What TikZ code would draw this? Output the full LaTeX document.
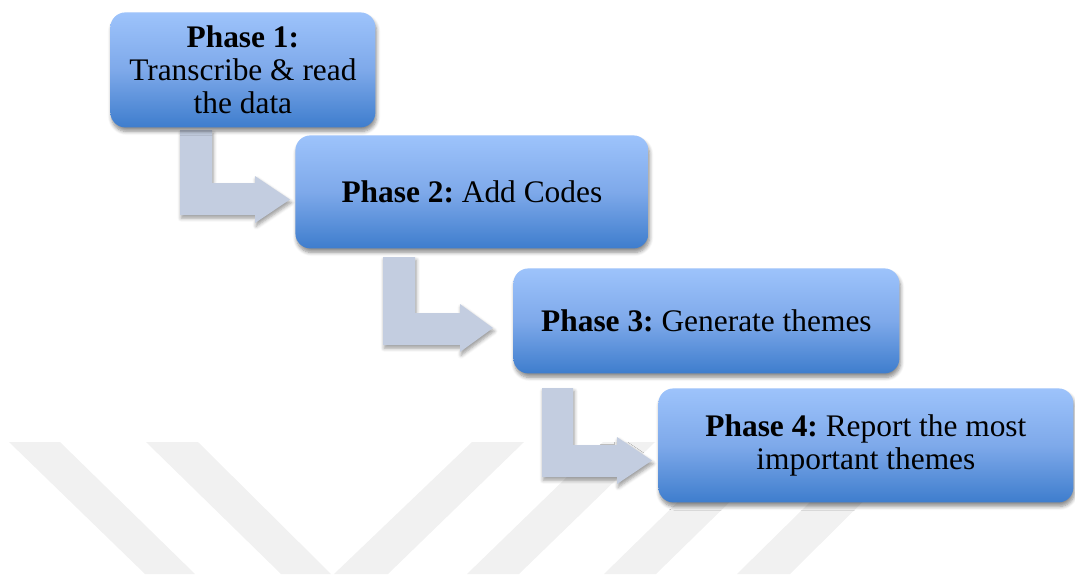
\documentclass[tikz,border=0pt]{standalone}
\usepackage{fontspec}
\setmainfont{Liberation Serif}
\usetikzlibrary{shadows.blur,calc}
\definecolor{boxtop}{HTML}{9DC3FB}
\definecolor{boxmid}{HTML}{7EA9EA}
\definecolor{boxbot}{HTML}{3E7DCD}
\definecolor{arrowfill}{HTML}{C3CDE0}
\definecolor{wmark}{HTML}{F1F1F1}
\tikzset{
  phasebox/.style={draw=none, rounded corners=7.5pt, inner sep=0pt,
    anchor=north west, align=center, text=black,
    font=\fontsize{15.7}{16.5}\selectfont\frenchspacing,
    top color=boxtop, bottom color=boxbot, middle color=boxmid,
    blur shadow={shadow xshift=0.6pt, shadow yshift=-2pt, shadow blur steps=6, shadow opacity=45}},
  bentarrow/.style={fill=arrowfill, draw=none,
    blur shadow={shadow xshift=0.6pt, shadow yshift=-1.6pt, shadow blur steps=5, shadow opacity=40}},
  band/.style={fill=wmark, draw=none}
}
\begin{document}
\begin{tikzpicture}[x=0.5pt,y=-0.5pt]
\useasboundingbox (0,0) rectangle (1075,574);
% watermark
\fill[band] (9,442) -- (60,442) -- (195,574) -- (145,574) -- cycle;
\fill[band] (146,442) -- (198,442) -- (331,574) -- (281,574) -- cycle;
\fill[band] (472,442) -- (524,442) -- (388,574) -- (334,574) -- cycle;
\fill[band] (603,442) -- (655,442) -- (519,574) -- (467,574) -- cycle;
\fill[band] (739,442) -- (791,442) -- (656,574) -- (604,574) -- cycle;
\fill[band] (871,442) -- (923,442) -- (790,574) -- (737,574) -- cycle;
% arrows
\coordinate (t1) at (290,199.5);
\coordinate (t2) at (493,328);
\coordinate (t3) at (652,460.5);
\fill[bentarrow] (180,130) -- (212,130) -- (212,183) -- (255,183) -- (255,176) -- (t1) -- (255,223) -- (255,215) -- (180,215) -- cycle;
\fill[bentarrow] (383,257) -- (415,257) -- (415,313) -- (460,313) -- (460,304) -- (t2) -- (460,352) -- (460,345) -- (383,345) -- cycle;
\fill[bentarrow] (542,388) -- (573,388) -- (573,445) -- (617,445) -- (617,437) -- (t3) -- (617,484) -- (617,477) -- (542,477) -- cycle;
% boxes
\node[phasebox, minimum width=132.5pt, minimum height=57.5pt] (b1) at (110,12)
  {\textbf{Phase 1:}\\Transcribe \& read\\the data};
\node[phasebox, minimum width=176.5pt, minimum height=56.5pt] (b2) at (295,135)
  {\textbf{Phase 2:} Add Codes};
\node[phasebox, minimum width=193pt, minimum height=52.5pt] (b3) at (513,268)
  {\textbf{Phase 3:} Generate themes};
\node[phasebox, minimum width=207.5pt, minimum height=57pt] (b4) at (658,388)
  {\textbf{Phase 4:} Report the most\\important themes};
\end{tikzpicture}
\end{document}
